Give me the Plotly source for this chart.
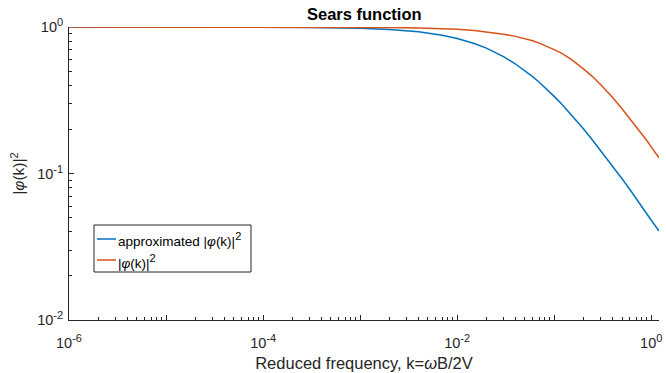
import plotly.graph_objects as go

k_vals = [1e-6, 1e-5, 1e-4, 3e-4, 1e-3, 2e-3, 4e-3, 7e-3, 0.01, 0.015, 0.02, 0.025, 0.03, 0.04,
          0.05, 0.06, 0.07, 0.085, 0.1, 0.12, 0.15, 0.2, 0.25, 0.3, 0.35, 0.4, 0.5, 0.6, 0.7,
          0.8, 0.9, 1.0, 1.1, 1.2]
approx_vals = [1.0, 0.9998, 0.998, 0.994, 0.981, 0.962, 0.927, 0.879, 0.835, 0.772, 0.717,
               0.670, 0.628, 0.559, 0.503, 0.458, 0.420, 0.373, 0.336, 0.297, 0.252, 0.202,
               0.168, 0.144, 0.126, 0.112, 0.092, 0.078, 0.067, 0.060, 0.0533, 0.048, 0.044,
               0.0405]
exact_vals = [1.0, 1.0, 0.9997, 0.999, 0.9965, 0.993, 0.986, 0.976, 0.965, 0.946, 0.927,
              0.910, 0.893, 0.863, 0.836, 0.805, 0.776, 0.738, 0.701, 0.660, 0.601, 0.518,
              0.457, 0.405, 0.364, 0.330, 0.277, 0.2385, 0.209, 0.186, 0.168, 0.152, 0.139,
              0.128]

SUP = "<sup><span style='font-size:11px'>{}</span></sup>"
series_names = ["approximated |<i>φ</i>(k)|" + SUP.format("2"), "|<i>φ</i>(k)|" + SUP.format("2")]
series_colors = ["#0072BD", "#D95319"]

x_tickvals = [1e-6, 1e-5, 1e-4, 1e-3, 1e-2, 1e-1, 1]
x_exps = ["-6", "", "-4", "", "-2", "", "0"]
y_tickvals = [1e-2, 1e-1, 1]
y_exps = ["-2", "-1", "0"]
x_ticktext = [("10" + SUP.format(e)) if e else "" for e in x_exps]
y_ticktext = ["10" + SUP.format(e) for e in y_exps]

axis_col = "#262626"
font_fam = "Liberation Sans, Arial, sans-serif"

fig = go.Figure()
for yv, nm, col in zip([approx_vals, exact_vals], series_names, series_colors):
    fig.add_trace(go.Scatter(x=k_vals, y=yv, mode="lines", line=dict(color=col, width=1.5),
                             name=nm, showlegend=False))

# manual MATLAB-style legend (box, short line samples, labels) in paper coords
W, H = 590.0, 293.0
def px(x):
    return (x - 69) / W
def py(y):
    return (320 - y) / H

fig.add_shape(type="rect", xref="paper", yref="paper", x0=px(94), x1=px(251), y0=py(272), y1=py(225),
              line=dict(color=axis_col, width=1), fillcolor="white", layer="above")
for i, (nm, col) in enumerate(zip(series_names, series_colors)):
    yy = [239, 260][i]
    fig.add_shape(type="line", xref="paper", yref="paper", x0=px(97), x1=px(116), y0=py(yy), y1=py(yy),
                  line=dict(color=col, width=1.5), layer="above")
    fig.add_annotation(xref="paper", yref="paper", x=px(116), y=py(yy + 1), xanchor="left", yanchor="middle",
                       text=nm, showarrow=False, font=dict(size=13.5, color="black", family=font_fam))

fig.update_layout(
    width=666, height=373,
    margin=dict(l=69, r=7, t=27, b=53),
    paper_bgcolor="white", plot_bgcolor="white",
    font=dict(family=font_fam, size=14, color=axis_col),
    title=dict(text="<b>Sears function</b>", x=0.547, xanchor="center", y=0.962, yanchor="middle",
               font=dict(size=16.5, color="black")),
    showlegend=False,
)
fig.update_xaxes(type="log", range=[-6, 0.08], showgrid=False, zeroline=False, automargin=False,
                 showline=True, linecolor=axis_col, linewidth=1, mirror=False,
                 tickvals=x_tickvals, ticktext=x_ticktext, ticks="inside", ticklen=5,
                 tickcolor=axis_col, ticklabelstandoff=10,
                 minor=dict(ticks="inside", ticklen=3, tickcolor=axis_col, dtick="D1", showgrid=False),
                 title=dict(text="Reduced frequency, k=<i>ω</i>B/2V", font=dict(size=16.5, color=axis_col), standoff=7),
                 tickfont=dict(size=14.5, color=axis_col))
fig.update_yaxes(type="log", range=[-2, 0], showgrid=False, zeroline=False, automargin=False,
                 showline=True, linecolor=axis_col, linewidth=1, mirror=False,
                 tickvals=y_tickvals, ticktext=y_ticktext, ticks="inside", ticklen=5,
                 tickcolor=axis_col, ticklabelstandoff=2,
                 minor=dict(ticks="inside", ticklen=3, tickcolor=axis_col, dtick="D1", showgrid=False),
                 title=dict(text="|<i>φ</i>(k)|" + SUP.format("2"), font=dict(size=15.5, color=axis_col), standoff=8),
                 tickfont=dict(size=14.5, color=axis_col))

fig.write_html("out.html")
